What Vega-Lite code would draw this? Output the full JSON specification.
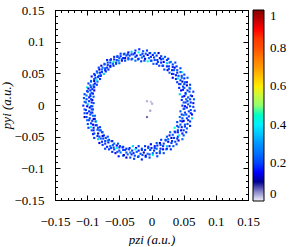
{
  "$schema": "https://vega.github.io/schema/vega-lite/v6.json",
  "width": 193,
  "height": 190,
  "padding": {"left": 0, "top": 4, "right": 0, "bottom": 0},
  "background": "white",
  "config": {
    "font": "Times New Roman",
    "view": {"stroke": "black", "strokeWidth": 1},
    "axis": {"grid": false, "domain": false, "tickColor": "black", "tickWidth": 1, "labelColor": "black", "labelFont": "Times New Roman", "labelFontSize": 13, "labelOverlap": false, "labelFlush": false, "labelBound": false, "titleFont": "Times New Roman", "titleFontStyle": "italic", "titleFontWeight": "normal", "titleFontSize": 13, "titleColor": "black"}
  },
  "datasets": {
    "ring": [
      {"z":0.048,"y":-0.001,"v":0.18},{"z":0.057,"y":0.001,"v":0.2},{"z":0.065,"y":0.003,"v":0.16},
      {"z":0.050,"y":0.004,"v":0.22},{"z":0.056,"y":0.006,"v":0.19},{"z":0.066,"y":0.009,"v":0.22},
      {"z":0.047,"y":0.008,"v":0.17},{"z":0.057,"y":0.012,"v":0.21},{"z":0.063,"y":0.014,"v":0.13},
      {"z":0.048,"y":0.013,"v":0.18},{"z":0.053,"y":0.017,"v":0.24},{"z":0.065,"y":0.021,"v":0.2},
      {"z":0.044,"y":0.017,"v":0.36},{"z":0.056,"y":0.023,"v":0.17},{"z":0.060,"y":0.026,"v":0.19},
      {"z":0.046,"y":0.023,"v":0.15},{"z":0.051,"y":0.027,"v":0.22},{"z":0.060,"y":0.032,"v":0.2},
      {"z":0.043,"y":0.027,"v":0.18},{"z":0.051,"y":0.033,"v":0.2},{"z":0.055,"y":0.036,"v":0.16},
      {"z":0.043,"y":0.033,"v":0.19},{"z":0.048,"y":0.037,"v":0.12},{"z":0.056,"y":0.043,"v":0.23},
      {"z":0.040,"y":0.036,"v":0.18},{"z":0.047,"y":0.043,"v":0.24},{"z":0.051,"y":0.048,"v":0.2},
      {"z":0.038,"y":0.041,"v":0.17},{"z":0.042,"y":0.046,"v":0.21},{"z":0.047,"y":0.052,"v":0.44},
      {"z":0.033,"y":0.043,"v":0.14},{"z":0.040,"y":0.051,"v":0.18},{"z":0.045,"y":0.058,"v":0.2},
      {"z":0.032,"y":0.049,"v":0.16},{"z":0.035,"y":0.055,"v":0.22},{"z":0.039,"y":0.061,"v":0.19},
      {"z":0.028,"y":0.051,"v":0.22},{"z":0.033,"y":0.060,"v":0.17},{"z":0.037,"y":0.067,"v":0.21},
      {"z":0.025,"y":0.055,"v":0.13},{"z":0.027,"y":0.061,"v":0.18},{"z":0.030,"y":0.068,"v":0.24},
      {"z":0.020,"y":0.056,"v":0.2},{"z":0.024,"y":0.066,"v":0.36},{"z":0.026,"y":0.073,"v":0.17},
      {"z":0.017,"y":0.062,"v":0.19},{"z":0.019,"y":0.068,"v":0.15},{"z":0.021,"y":0.076,"v":0.22},
      {"z":0.012,"y":0.062,"v":0.2},{"z":0.015,"y":0.072,"v":0.18},{"z":0.015,"y":0.077,"v":0.2},
      {"z":0.008,"y":0.065,"v":0.16},{"z":0.009,"y":0.071,"v":0.19},{"z":0.011,"y":0.082,"v":0.12},
      {"z":0.003,"y":0.065,"v":0.23},{"z":0.004,"y":0.075,"v":0.18},{"z":0.005,"y":0.082,"v":0.24},
      {"z":-0.001,"y":0.070,"v":0.2},{"z":-0.001,"y":0.076,"v":0.17},{"z":-0.002,"y":0.082,"v":0.21},
      {"z":-0.006,"y":0.069,"v":0.44},{"z":-0.006,"y":0.079,"v":0.14},{"z":-0.007,"y":0.086,"v":0.18},
      {"z":-0.011,"y":0.070,"v":0.2},{"z":-0.012,"y":0.077,"v":0.16},{"z":-0.013,"y":0.085,"v":0.22},
      {"z":-0.016,"y":0.069,"v":0.19},{"z":-0.017,"y":0.079,"v":0.22},{"z":-0.019,"y":0.088,"v":0.17},
      {"z":-0.021,"y":0.072,"v":0.21},{"z":-0.023,"y":0.078,"v":0.13},{"z":-0.025,"y":0.086,"v":0.18},
      {"z":-0.025,"y":0.070,"v":0.24},{"z":-0.028,"y":0.080,"v":0.2},{"z":-0.031,"y":0.084,"v":0.36},
      {"z":-0.031,"y":0.072,"v":0.17},{"z":-0.034,"y":0.078,"v":0.19},{"z":-0.036,"y":0.083,"v":0.15},
      {"z":-0.036,"y":0.072,"v":0.22},{"z":-0.039,"y":0.078,"v":0.2},{"z":-0.042,"y":0.081,"v":0.18},
      {"z":-0.041,"y":0.070,"v":0.2},{"z":-0.044,"y":0.074,"v":0.16},{"z":-0.048,"y":0.081,"v":0.19},
      {"z":-0.046,"y":0.070,"v":0.12},{"z":-0.050,"y":0.074,"v":0.23},{"z":-0.053,"y":0.077,"v":0.18},
      {"z":-0.050,"y":0.066,"v":0.24},{"z":-0.054,"y":0.071,"v":0.2},{"z":-0.058,"y":0.076,"v":0.17},
      {"z":-0.055,"y":0.065,"v":0.21},{"z":-0.059,"y":0.068,"v":0.44},{"z":-0.063,"y":0.072,"v":0.14},
      {"z":-0.059,"y":0.062,"v":0.18},{"z":-0.064,"y":0.067,"v":0.2},{"z":-0.069,"y":0.071,"v":0.16},
      {"z":-0.064,"y":0.060,"v":0.22},{"z":-0.068,"y":0.063,"v":0.19},{"z":-0.073,"y":0.065,"v":0.22},
      {"z":-0.067,"y":0.056,"v":0.17},{"z":-0.072,"y":0.058,"v":0.21},{"z":-0.078,"y":0.062,"v":0.13},
      {"z":-0.071,"y":0.053,"v":0.18},{"z":-0.077,"y":0.056,"v":0.24},{"z":-0.082,"y":0.059,"v":0.2},
      {"z":-0.074,"y":0.049,"v":0.36},{"z":-0.080,"y":0.051,"v":0.17},{"z":-0.085,"y":0.053,"v":0.19},
      {"z":-0.079,"y":0.046,"v":0.15},{"z":-0.082,"y":0.046,"v":0.22},{"z":-0.089,"y":0.049,"v":0.2},
      {"z":-0.080,"y":0.041,"v":0.18},{"z":-0.087,"y":0.043,"v":0.2},{"z":-0.093,"y":0.045,"v":0.16},
      {"z":-0.084,"y":0.037,"v":0.19},{"z":-0.089,"y":0.038,"v":0.12},{"z":-0.094,"y":0.038,"v":0.23},
      {"z":-0.085,"y":0.032,"v":0.18},{"z":-0.090,"y":0.032,"v":0.24},{"z":-0.098,"y":0.034,"v":0.2},
      {"z":-0.089,"y":0.028,"v":0.17},{"z":-0.094,"y":0.028,"v":0.21},{"z":-0.100,"y":0.028,"v":0.44},
      {"z":-0.089,"y":0.023,"v":0.14},{"z":-0.095,"y":0.023,"v":0.18},{"z":-0.100,"y":0.022,"v":0.2},
      {"z":-0.091,"y":0.018,"v":0.16},{"z":-0.095,"y":0.017,"v":0.22},{"z":-0.104,"y":0.017,"v":0.19},
      {"z":-0.090,"y":0.013,"v":0.22},{"z":-0.097,"y":0.012,"v":0.17},{"z":-0.105,"y":0.011,"v":0.21},
      {"z":-0.092,"y":0.008,"v":0.13},{"z":-0.097,"y":0.006,"v":0.18},{"z":-0.104,"y":0.005,"v":0.24},
      {"z":-0.090,"y":0.003,"v":0.2},{"z":-0.099,"y":0.001,"v":0.36},{"z":-0.106,"y":-0.001,"v":0.17},
      {"z":-0.092,"y":-0.002,"v":0.19},{"z":-0.096,"y":-0.004,"v":0.15},{"z":-0.104,"y":-0.007,"v":0.22},
      {"z":-0.091,"y":-0.007,"v":0.2},{"z":-0.097,"y":-0.010,"v":0.18},{"z":-0.104,"y":-0.013,"v":0.2},
      {"z":-0.092,"y":-0.012,"v":0.16},{"z":-0.095,"y":-0.015,"v":0.19},{"z":-0.104,"y":-0.019,"v":0.12},
      {"z":-0.088,"y":-0.017,"v":0.23},{"z":-0.096,"y":-0.021,"v":0.18},{"z":-0.100,"y":-0.024,"v":0.24},
      {"z":-0.088,"y":-0.022,"v":0.2},{"z":-0.092,"y":-0.025,"v":0.17},{"z":-0.099,"y":-0.030,"v":0.21},
      {"z":-0.086,"y":-0.026,"v":0.44},{"z":-0.091,"y":-0.031,"v":0.14},{"z":-0.098,"y":-0.036,"v":0.18},
      {"z":-0.085,"y":-0.032,"v":0.2},{"z":-0.090,"y":-0.036,"v":0.16},{"z":-0.093,"y":-0.040,"v":0.22},
      {"z":-0.080,"y":-0.035,"v":0.19},{"z":-0.084,"y":-0.039,"v":0.22},{"z":-0.091,"y":-0.046,"v":0.17},
      {"z":-0.079,"y":-0.040,"v":0.21},{"z":-0.083,"y":-0.045,"v":0.13},{"z":-0.089,"y":-0.052,"v":0.18},
      {"z":-0.076,"y":-0.043,"v":0.24},{"z":-0.081,"y":-0.050,"v":0.2},{"z":-0.083,"y":-0.054,"v":0.36},
      {"z":-0.074,"y":-0.048,"v":0.17},{"z":-0.075,"y":-0.053,"v":0.19},{"z":-0.081,"y":-0.060,"v":0.15},
      {"z":-0.068,"y":-0.050,"v":0.22},{"z":-0.072,"y":-0.057,"v":0.2},{"z":-0.076,"y":-0.063,"v":0.18},
      {"z":-0.066,"y":-0.055,"v":0.2},{"z":-0.067,"y":-0.059,"v":0.16},{"z":-0.072,"y":-0.069,"v":0.19},
      {"z":-0.061,"y":-0.057,"v":0.12},{"z":-0.064,"y":-0.065,"v":0.23},{"z":-0.066,"y":-0.070,"v":0.18},
      {"z":-0.058,"y":-0.061,"v":0.24},{"z":-0.059,"y":-0.067,"v":0.2},{"z":-0.061,"y":-0.074,"v":0.17},
      {"z":-0.052,"y":-0.061,"v":0.21},{"z":-0.054,"y":-0.068,"v":0.44},{"z":-0.056,"y":-0.076,"v":0.14},
      {"z":-0.049,"y":-0.065,"v":0.18},{"z":-0.050,"y":-0.072,"v":0.2},{"z":-0.051,"y":-0.081,"v":0.16},
      {"z":-0.044,"y":-0.066,"v":0.22},{"z":-0.044,"y":-0.071,"v":0.19},{"z":-0.044,"y":-0.080,"v":0.22},
      {"z":-0.039,"y":-0.069,"v":0.17},{"z":-0.039,"y":-0.075,"v":0.21},{"z":-0.039,"y":-0.083,"v":0.13},
      {"z":-0.034,"y":-0.068,"v":0.18},{"z":-0.033,"y":-0.075,"v":0.24},{"z":-0.033,"y":-0.083,"v":0.2},
      {"z":-0.029,"y":-0.065,"v":0.36},{"z":-0.028,"y":-0.076,"v":0.17},{"z":-0.027,"y":-0.085,"v":0.19},
      {"z":-0.024,"y":-0.068,"v":0.15},{"z":-0.023,"y":-0.074,"v":0.22},{"z":-0.021,"y":-0.082,"v":0.2},
      {"z":-0.020,"y":-0.065,"v":0.18},{"z":-0.017,"y":-0.077,"v":0.2},{"z":-0.015,"y":-0.086,"v":0.16},
      {"z":-0.015,"y":-0.069,"v":0.19},{"z":-0.012,"y":-0.075,"v":0.12},{"z":-0.009,"y":-0.082,"v":0.23},
      {"z":-0.010,"y":-0.065,"v":0.18},{"z":-0.006,"y":-0.077,"v":0.24},{"z":-0.003,"y":-0.083,"v":0.2},
      {"z":-0.005,"y":-0.066,"v":0.17},{"z":-0.002,"y":-0.071,"v":0.21},{"z":0.002,"y":-0.079,"v":0.44},
      {"z":-0.001,"y":-0.062,"v":0.14},{"z":0.004,"y":-0.072,"v":0.18},{"z":0.009,"y":-0.081,"v":0.2},
      {"z":0.005,"y":-0.065,"v":0.16},{"z":0.008,"y":-0.069,"v":0.22},{"z":0.013,"y":-0.076,"v":0.19},
      {"z":0.008,"y":-0.060,"v":0.22},{"z":0.014,"y":-0.069,"v":0.17},{"z":0.019,"y":-0.076,"v":0.21},
      {"z":0.013,"y":-0.060,"v":0.13},{"z":0.018,"y":-0.065,"v":0.18},{"z":0.023,"y":-0.070,"v":0.24},
      {"z":0.015,"y":-0.055,"v":0.2},{"z":0.024,"y":-0.065,"v":0.36},{"z":0.030,"y":-0.070,"v":0.17},
      {"z":0.022,"y":-0.055,"v":0.19},{"z":0.026,"y":-0.058,"v":0.15},{"z":0.034,"y":-0.065,"v":0.22},
      {"z":0.024,"y":-0.050,"v":0.2},{"z":0.032,"y":-0.057,"v":0.18},{"z":0.039,"y":-0.062,"v":0.2},
      {"z":0.028,"y":-0.048,"v":0.16},{"z":0.035,"y":-0.052,"v":0.19},{"z":0.042,"y":-0.056,"v":0.12},
      {"z":0.029,"y":-0.043,"v":0.23},{"z":0.041,"y":-0.050,"v":0.18},{"z":0.048,"y":-0.054,"v":0.24},
      {"z":0.036,"y":-0.042,"v":0.2},{"z":0.041,"y":-0.043,"v":0.17},{"z":0.050,"y":-0.048,"v":0.21},
      {"z":0.036,"y":-0.036,"v":0.44},{"z":0.046,"y":-0.040,"v":0.14},{"z":0.054,"y":-0.043,"v":0.18},
      {"z":0.040,"y":-0.033,"v":0.2},{"z":0.047,"y":-0.035,"v":0.16},{"z":0.055,"y":-0.037,"v":0.22},
      {"z":0.040,"y":-0.027,"v":0.19},{"z":0.052,"y":-0.031,"v":0.22},{"z":0.060,"y":-0.033,"v":0.17},
      {"z":0.045,"y":-0.025,"v":0.21},{"z":0.050,"y":-0.025,"v":0.13},{"z":0.060,"y":-0.026,"v":0.18},
      {"z":0.044,"y":-0.019,"v":0.24},{"z":0.055,"y":-0.021,"v":0.2},{"z":0.063,"y":-0.021,"v":0.36},
      {"z":0.047,"y":-0.015,"v":0.17},{"z":0.054,"y":-0.015,"v":0.19},{"z":0.063,"y":-0.015,"v":0.15},
      {"z":0.045,"y":-0.010,"v":0.22},{"z":0.058,"y":-0.010,"v":0.2},{"z":0.067,"y":-0.009,"v":0.18},
      {"z":0.050,"y":-0.006,"v":0.2},{"z":0.055,"y":-0.004,"v":0.16},{"z":0.065,"y":-0.003,"v":0.19},
      {"z":0.053,"y":0.004,"v":0.19},{"z":0.061,"y":0.004,"v":0.17},
      {"z":0.054,"y":0.009,"v":0.22},{"z":0.060,"y":0.009,"v":0.2},
      {"z":0.051,"y":0.014,"v":0.15},{"z":0.061,"y":0.015,"v":0.2},
      {"z":0.053,"y":0.019,"v":0.18},{"z":0.059,"y":0.021,"v":0.21},
      {"z":0.049,"y":0.024,"v":0.16},{"z":0.059,"y":0.027,"v":0.25},
      {"z":0.049,"y":0.029,"v":0.19},{"z":0.055,"y":0.031,"v":0.13},
      {"z":0.045,"y":0.033,"v":0.2},{"z":0.052,"y":0.036,"v":0.23},
      {"z":0.045,"y":0.039,"v":0.18},{"z":0.051,"y":0.042,"v":0.17},
      {"z":0.041,"y":0.042,"v":0.4},{"z":0.047,"y":0.046,"v":0.2},
      {"z":0.038,"y":0.047,"v":0.16},{"z":0.045,"y":0.052,"v":0.22},
      {"z":0.034,"y":0.049,"v":0.19},{"z":0.040,"y":0.055,"v":0.21},
      {"z":0.032,"y":0.055,"v":0.18},{"z":0.036,"y":0.059,"v":0.14},
      {"z":0.027,"y":0.057,"v":0.21},{"z":0.033,"y":0.064,"v":0.2},
      {"z":0.024,"y":0.061,"v":0.17},{"z":0.028,"y":0.067,"v":0.25},
      {"z":0.018,"y":0.062,"v":0.19},{"z":0.024,"y":0.071,"v":0.19},
      {"z":0.015,"y":0.067,"v":0.17},{"z":0.018,"y":0.073,"v":0.22},
      {"z":0.010,"y":0.068,"v":0.2},{"z":0.013,"y":0.074,"v":0.15},
      {"z":0.005,"y":0.071,"v":0.2},{"z":0.008,"y":0.078,"v":0.18},
      {"z":0.000,"y":0.070,"v":0.21},{"z":0.002,"y":0.079,"v":0.16},
      {"z":-0.004,"y":0.074,"v":0.25},{"z":-0.003,"y":0.082,"v":0.19},
      {"z":-0.010,"y":0.073,"v":0.13},{"z":-0.009,"y":0.081,"v":0.2},
      {"z":-0.015,"y":0.075,"v":0.23},{"z":-0.014,"y":0.081,"v":0.18},
      {"z":-0.020,"y":0.073,"v":0.17},{"z":-0.020,"y":0.083,"v":0.4},
      {"z":-0.025,"y":0.076,"v":0.2},{"z":-0.026,"y":0.082,"v":0.16},
      {"z":-0.030,"y":0.073,"v":0.22},{"z":-0.031,"y":0.080,"v":0.19},
      {"z":-0.036,"y":0.074,"v":0.21},{"z":-0.037,"y":0.080,"v":0.18},
      {"z":-0.041,"y":0.074,"v":0.14},{"z":-0.043,"y":0.080,"v":0.21},
      {"z":-0.046,"y":0.072,"v":0.2},{"z":-0.048,"y":0.077,"v":0.17},
      {"z":-0.051,"y":0.070,"v":0.25},{"z":-0.053,"y":0.076,"v":0.19},
      {"z":-0.055,"y":0.067,"v":0.19},{"z":-0.058,"y":0.072,"v":0.17},
      {"z":-0.060,"y":0.065,"v":0.22},{"z":-0.064,"y":0.071,"v":0.2},
      {"z":-0.064,"y":0.062,"v":0.15},{"z":-0.068,"y":0.067,"v":0.2},
      {"z":-0.069,"y":0.059,"v":0.18},{"z":-0.073,"y":0.064,"v":0.21},
      {"z":-0.072,"y":0.055,"v":0.16},{"z":-0.076,"y":0.059,"v":0.25},
      {"z":-0.077,"y":0.052,"v":0.19},{"z":-0.081,"y":0.056,"v":0.13},
      {"z":-0.079,"y":0.047,"v":0.2},{"z":-0.084,"y":0.051,"v":0.23},
      {"z":-0.083,"y":0.044,"v":0.18},{"z":-0.088,"y":0.047,"v":0.17},
      {"z":-0.085,"y":0.039,"v":0.4},{"z":-0.089,"y":0.041,"v":0.2},
      {"z":-0.088,"y":0.034,"v":0.16},{"z":-0.094,"y":0.037,"v":0.22},
      {"z":-0.090,"y":0.029,"v":0.19},{"z":-0.095,"y":0.031,"v":0.21},
      {"z":-0.092,"y":0.025,"v":0.18},{"z":-0.098,"y":0.026,"v":0.14},
      {"z":-0.093,"y":0.019,"v":0.21},{"z":-0.099,"y":0.021,"v":0.2},
      {"z":-0.095,"y":0.014,"v":0.17},{"z":-0.101,"y":0.015,"v":0.25},
      {"z":-0.094,"y":0.009,"v":0.19},{"z":-0.101,"y":0.009,"v":0.19},
      {"z":-0.093,"y":0.004,"v":0.17},{"z":-0.102,"y":0.004,"v":0.22},
      {"z":-0.094,"y":-0.002,"v":0.2},{"z":-0.100,"y":-0.002,"v":0.15},
      {"z":-0.093,"y":-0.007,"v":0.2},{"z":-0.102,"y":-0.008,"v":0.18},
      {"z":-0.094,"y":-0.012,"v":0.21},{"z":-0.100,"y":-0.013,"v":0.16},
      {"z":-0.091,"y":-0.017,"v":0.25},{"z":-0.101,"y":-0.019,"v":0.19},
      {"z":-0.090,"y":-0.022,"v":0.13},{"z":-0.097,"y":-0.024,"v":0.2},
      {"z":-0.087,"y":-0.026,"v":0.23},{"z":-0.094,"y":-0.029,"v":0.18},
      {"z":-0.087,"y":-0.032,"v":0.17},{"z":-0.094,"y":-0.035,"v":0.4},
      {"z":-0.083,"y":-0.036,"v":0.2},{"z":-0.090,"y":-0.040,"v":0.16},
      {"z":-0.081,"y":-0.040,"v":0.22},{"z":-0.089,"y":-0.045,"v":0.19},
      {"z":-0.077,"y":-0.043,"v":0.21},{"z":-0.084,"y":-0.049,"v":0.18},
      {"z":-0.076,"y":-0.049,"v":0.14},{"z":-0.079,"y":-0.053,"v":0.21},
      {"z":-0.071,"y":-0.052,"v":0.2},{"z":-0.077,"y":-0.058,"v":0.17},
      {"z":-0.068,"y":-0.056,"v":0.25},{"z":-0.072,"y":-0.061,"v":0.19},
      {"z":-0.062,"y":-0.057,"v":0.19},{"z":-0.069,"y":-0.066,"v":0.17},
      {"z":-0.060,"y":-0.063,"v":0.22},{"z":-0.063,"y":-0.068,"v":0.2},
      {"z":-0.054,"y":-0.064,"v":0.15},{"z":-0.058,"y":-0.070,"v":0.2},
      {"z":-0.050,"y":-0.067,"v":0.18},{"z":-0.053,"y":-0.074,"v":0.21},
      {"z":-0.045,"y":-0.067,"v":0.16},{"z":-0.048,"y":-0.075,"v":0.25},
      {"z":-0.041,"y":-0.071,"v":0.19},{"z":-0.043,"y":-0.079,"v":0.13},
      {"z":-0.035,"y":-0.070,"v":0.2},{"z":-0.037,"y":-0.078,"v":0.23},
      {"z":-0.030,"y":-0.072,"v":0.18},{"z":-0.031,"y":-0.078,"v":0.17},
      {"z":-0.025,"y":-0.070,"v":0.4},{"z":-0.026,"y":-0.080,"v":0.2},
      {"z":-0.020,"y":-0.072,"v":0.16},{"z":-0.020,"y":-0.081,"v":0.22},
      {"z":-0.015,"y":-0.071,"v":0.19},{"z":-0.014,"y":-0.079,"v":0.21},
      {"z":-0.010,"y":-0.071,"v":0.18},{"z":-0.009,"y":-0.080,"v":0.14},
      {"z":-0.005,"y":-0.068,"v":0.21},{"z":-0.003,"y":-0.078,"v":0.2},
      {"z":0.000,"y":-0.068,"v":0.17},{"z":0.002,"y":-0.076,"v":0.25},
      {"z":0.005,"y":-0.068,"v":0.19},{"z":0.008,"y":-0.076,"v":0.19},
      {"z":0.009,"y":-0.064,"v":0.17},{"z":0.013,"y":-0.073,"v":0.22},
      {"z":0.014,"y":-0.063,"v":0.2},{"z":0.018,"y":-0.070,"v":0.15},
      {"z":0.019,"y":-0.061,"v":0.2},{"z":0.024,"y":-0.069,"v":0.18},
      {"z":0.022,"y":-0.056,"v":0.21},{"z":0.028,"y":-0.065,"v":0.16},
      {"z":0.026,"y":-0.054,"v":0.25},{"z":0.031,"y":-0.060,"v":0.19},
      {"z":0.031,"y":-0.052,"v":0.13},{"z":0.037,"y":-0.058,"v":0.2},
      {"z":0.033,"y":-0.047,"v":0.23},{"z":0.040,"y":-0.053,"v":0.18},
      {"z":0.037,"y":-0.043,"v":0.17},{"z":0.043,"y":-0.048,"v":0.4},
      {"z":0.041,"y":-0.040,"v":0.2},{"z":0.048,"y":-0.045,"v":0.16},
      {"z":0.042,"y":-0.035,"v":0.22},{"z":0.050,"y":-0.040,"v":0.19},
      {"z":0.045,"y":-0.031,"v":0.21},{"z":0.052,"y":-0.034,"v":0.18},
      {"z":0.048,"y":-0.026,"v":0.14},{"z":0.056,"y":-0.030,"v":0.21},
      {"z":0.048,"y":-0.021,"v":0.2},{"z":0.057,"y":-0.024,"v":0.17},
      {"z":0.050,"y":-0.016,"v":0.25},{"z":0.058,"y":-0.018,"v":0.19},
      {"z":0.052,"y":-0.012,"v":0.19},{"z":0.061,"y":-0.013,"v":0.17},
      {"z":0.051,"y":-0.006,"v":0.22},{"z":0.061,"y":-0.008,"v":0.2},
      {"z":0.052,"y":-0.002,"v":0.15},{"z":0.060,"y":-0.002,"v":0.2},
      {"z":-0.007,"y":0.006,"v":0.03},{"z":-0.001,"y":0.005,"v":0.02},{"z":0.001,"y":0.002,"v":0.03},
      {"z":-0.002,"y":-0.009,"v":0.04},{"z":-0.007,"y":-0.019,"v":0.06}
    ]
  },
  "layer": [
    {
      "data": {"name": "ring"},
      "mark": {"type": "square", "size": 4.5, "opacity": 1},
      "encoding": {
        "x": {"field": "z", "type": "quantitative", "scale": {"domain": [-0.15, 0.15], "nice": false, "zero": false},
          "axis": {"orient": "bottom", "values": [-0.15, -0.1, -0.05, 0, 0.05, 0.1, 0.15], "format": ".2~f", "tickSize": -5, "labelPadding": 20, "title": "pzi  (a.u.)", "titlePadding": 5}},
        "y": {"field": "y", "type": "quantitative", "scale": {"domain": [-0.15, 0.15], "nice": false, "zero": false},
          "axis": {"orient": "left", "values": [-0.15, -0.1, -0.05, 0, 0.05, 0.1, 0.15], "format": ".2~f", "tickSize": -5, "labelPadding": 16, "title": "pyi  (a.u.)", "titlePadding": 0}},
        "color": {"field": "v", "type": "quantitative",
          "scale": {"domain": [0, 0.04, 0.1, 0.15, 0.2, 0.3, 0.4, 0.5, 0.6, 0.7, 0.8, 0.9, 1],
                    "range": ["#f2f2fb", "#9b9bd0", "#000090", "#0000ff", "#0045ff", "#0095ff", "#00f0ff", "#90ff70", "#ffee00", "#ff9900", "#ff5000", "#ff0000", "#800000"]},
          "legend": {"orient": "right", "offset": 4, "title": null, "padding": 0, "direction": "vertical", "gradientLength": 191, "gradientThickness": 11, "gradientStrokeColor": "black", "gradientStrokeWidth": 1, "values": [0, 0.2, 0.4, 0.6, 0.8, 1], "format": "~g", "labelFont": "Times New Roman", "labelFontSize": 13, "labelColor": "black", "labelOffset": 6, "labelBaseline": "middle"}}
      }
    },
    {
      "data": {"name": "ring"},
      "mark": {"type": "square", "opacity": 0},
      "encoding": {
        "x": {"field": "z", "type": "quantitative", "scale": {"domain": [-0.15, 0.15], "nice": false, "zero": false},
          "axis": {"orient": "top", "values": [-0.15, -0.1, -0.05, 0, 0.05, 0.1, 0.15], "tickSize": -5, "labels": false, "title": null}},
        "y": {"field": "y", "type": "quantitative", "scale": {"domain": [-0.15, 0.15], "nice": false, "zero": false},
          "axis": {"orient": "right", "values": [-0.15, -0.1, -0.05, 0, 0.05, 0.1, 0.15], "tickSize": -5, "labels": false, "title": null}}
      }
    },
    {
      "data": {"name": "ring"},
      "mark": {"type": "square", "opacity": 0},
      "encoding": {
        "x": {"field": "z", "type": "quantitative", "scale": {"domain": [-0.15, 0.15], "nice": false, "zero": false},
          "axis": {"orient": "bottom", "values": [-0.15,-0.14,-0.13,-0.12,-0.11,-0.1,-0.09,-0.08,-0.07,-0.06,-0.05,-0.04,-0.03,-0.02,-0.01,0,0.01,0.02,0.03,0.04,0.05,0.06,0.07,0.08,0.09,0.1,0.11,0.12,0.13,0.14,0.15], "tickSize": -2.5, "labels": false, "title": null}},
        "y": {"field": "y", "type": "quantitative", "scale": {"domain": [-0.15, 0.15], "nice": false, "zero": false},
          "axis": {"orient": "left", "values": [-0.15,-0.14,-0.13,-0.12,-0.11,-0.1,-0.09,-0.08,-0.07,-0.06,-0.05,-0.04,-0.03,-0.02,-0.01,0,0.01,0.02,0.03,0.04,0.05,0.06,0.07,0.08,0.09,0.1,0.11,0.12,0.13,0.14,0.15], "tickSize": -2.5, "labels": false, "title": null}}
      }
    },
    {
      "data": {"name": "ring"},
      "mark": {"type": "square", "opacity": 0},
      "encoding": {
        "x": {"field": "z", "type": "quantitative", "scale": {"domain": [-0.15, 0.15], "nice": false, "zero": false},
          "axis": {"orient": "top", "values": [-0.15,-0.14,-0.13,-0.12,-0.11,-0.1,-0.09,-0.08,-0.07,-0.06,-0.05,-0.04,-0.03,-0.02,-0.01,0,0.01,0.02,0.03,0.04,0.05,0.06,0.07,0.08,0.09,0.1,0.11,0.12,0.13,0.14,0.15], "tickSize": -2.5, "labels": false, "title": null}},
        "y": {"field": "y", "type": "quantitative", "scale": {"domain": [-0.15, 0.15], "nice": false, "zero": false},
          "axis": {"orient": "right", "values": [-0.15,-0.14,-0.13,-0.12,-0.11,-0.1,-0.09,-0.08,-0.07,-0.06,-0.05,-0.04,-0.03,-0.02,-0.01,0,0.01,0.02,0.03,0.04,0.05,0.06,0.07,0.08,0.09,0.1,0.11,0.12,0.13,0.14,0.15], "tickSize": -2.5, "labels": false, "title": null}}
      }
    }
  ],
  "resolve": {"axis": {"x": "independent", "y": "independent"}}
}
